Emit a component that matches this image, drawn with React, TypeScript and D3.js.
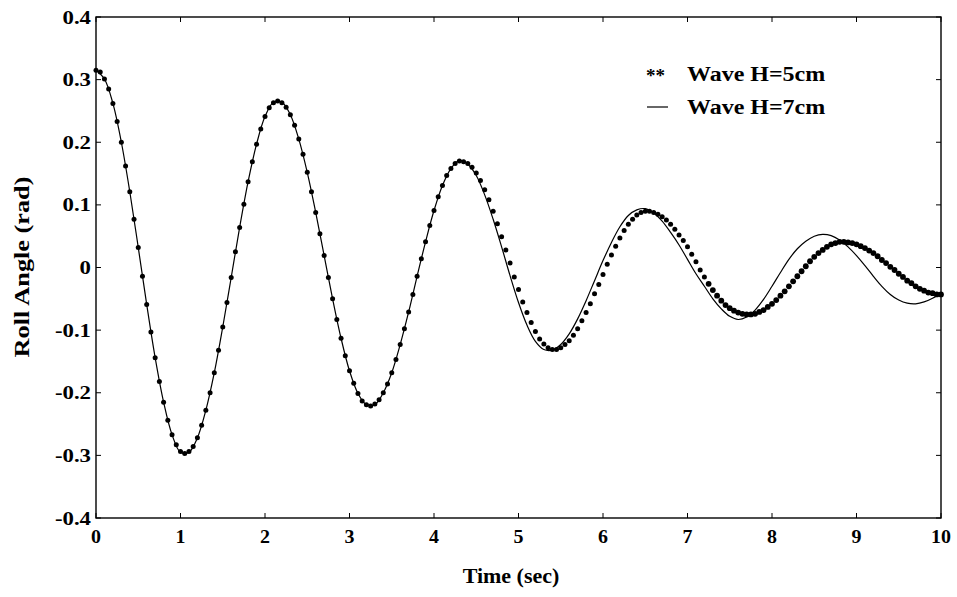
import React from "react";
import * as d3 from "d3";

// Dotted series: Wave H=5cm, sampled every 0.05 s from 0 to 10 s
const dotStep = 0.05;
const wave5: number[] = [
  0.315, 0.312, 0.301, 0.285, 0.262, 0.233, 0.200, 0.162, 0.121, 0.077,
  0.032, -0.014, -0.059, -0.103, -0.144, -0.182, -0.215, -0.244, -0.267, -0.283,
  -0.294, -0.297, -0.294, -0.286, -0.272, -0.252, -0.228, -0.200, -0.168, -0.132,
  -0.095, -0.056, -0.016, 0.025, 0.064, 0.101, 0.137, 0.169, 0.197, 0.221,
  0.241, 0.255, 0.263, 0.266, 0.263, 0.256, 0.244, 0.227, 0.205, 0.181,
  0.152, 0.121, 0.088, 0.054, 0.019, -0.016, -0.050, -0.083, -0.113, -0.141,
  -0.165, -0.185, -0.201, -0.213, -0.219, -0.221, -0.218, -0.211, -0.200, -0.186,
  -0.168, -0.147, -0.123, -0.098, -0.071, -0.043, -0.014, 0.014, 0.041, 0.067,
  0.091, 0.113, 0.131, 0.147, 0.158, 0.166, 0.170, 0.169, 0.166, 0.160,
  0.151, 0.139, 0.124, 0.108, 0.090, 0.070, 0.049, 0.028, 0.007, -0.015,
  -0.035, -0.055, -0.072, -0.088, -0.102, -0.114, -0.122, -0.128, -0.131, -0.131,
  -0.128, -0.123, -0.117, -0.108, -0.098, -0.085, -0.072, -0.058, -0.042, -0.027,
  -0.011, 0.005, 0.020, 0.034, 0.047, 0.059, 0.069, 0.077, 0.084, 0.088,
  0.090, 0.090, 0.088, 0.085, 0.081, 0.076, 0.069, 0.061, 0.052, 0.043,
  0.033, 0.021, 0.009, -0.004, -0.015, -0.026, -0.036, -0.045, -0.053, -0.060,
  -0.065, -0.069, -0.072, -0.074, -0.075, -0.075, -0.074, -0.071, -0.068, -0.063,
  -0.058, -0.052, -0.045, -0.038, -0.030, -0.022, -0.014, -0.006, 0.002, 0.010,
  0.017, 0.023, 0.028, 0.033, 0.037, 0.039, 0.041, 0.041, 0.040, 0.039,
  0.037, 0.034, 0.031, 0.027, 0.023, 0.018, 0.012, 0.007, 0.001, -0.004,
  -0.010, -0.015, -0.021, -0.025, -0.030, -0.034, -0.037, -0.040, -0.041, -0.043,
  -0.043,
];

// Solid series: Wave H=7cm, sampled every 0.1 s from 0 to 10 s
const lineStep = 0.1;
const wave7: number[] = [
  0.315, 0.301, 0.262, 0.200, 0.121, 0.032, -0.059, -0.144, -0.215, -0.267,
  -0.295, -0.295, -0.272, -0.228, -0.168, -0.095, -0.016, 0.064, 0.137, 0.197,
  0.241, 0.264, 0.264, 0.244, 0.205, 0.152, 0.088, 0.019, -0.050, -0.113,
  -0.165, -0.201, -0.219, -0.219, -0.200, -0.168, -0.123, -0.071, -0.014, 0.041,
  0.091, 0.131, 0.158, 0.171, 0.165, 0.147, 0.116, 0.077, 0.033, -0.013,
  -0.056, -0.092, -0.118, -0.131, -0.132, -0.123, -0.106, -0.082, -0.053, -0.021,
  0.011, 0.040, 0.065, 0.083, 0.092, 0.094, 0.087, 0.074, 0.056, 0.036,
  0.013, -0.010, -0.030, -0.050, -0.066, -0.078, -0.083, -0.079, -0.068, -0.051,
  -0.030, -0.008, 0.013, 0.030, 0.042, 0.050, 0.053, 0.051, 0.044, 0.033,
  0.019, 0.003, -0.014, -0.030, -0.043, -0.052, -0.057, -0.058, -0.055, -0.049,
  -0.041,
];

const xTicks = [0, 1, 2, 3, 4, 5, 6, 7, 8, 9, 10];
const yTicks = [0.4, 0.3, 0.2, 0.1, 0, -0.1, -0.2, -0.3, -0.4];
const yTickLabels = ["0.4", "0.3", "0.2", "0.1", "0", "-0.1", "-0.2", "-0.3", "-0.4"];
const legendLabels = ["Wave H=5cm", "Wave H=7cm"];

const W = 957;
const H = 597;
const left = 96;
const right = 941;
const top = 17;
const bottom = 518;
const FONT = "'Liberation Serif', 'Times New Roman', serif";

export default function App() {
  const x = d3.scaleLinear().domain([0, 10]).range([left, right]);
  const y = d3.scaleLinear().domain([-0.4, 0.4]).range([bottom, top]);

  const linePts: [number, number][] = wave7.map((v, i) => [i * lineStep, v]);
  const dotPts: [number, number][] = wave5.map((v, i) => [i * dotStep, v]);

  const lineGen = d3
    .line<[number, number]>()
    .x((d) => x(d[0]))
    .y((d) => y(d[1]))
    .curve(d3.curveCatmullRom.alpha(0.5));

  const tickLen = 5;

  return (
    <svg
      width={W}
      height={H}
      viewBox={`0 0 ${W} ${H}`}
      style={{ position: "absolute", left: 0, top: 0, background: "#fff" }}
    >
      <rect x={0} y={0} width={W} height={H} fill="#fff" />
      {/* frame */}
      <rect
        x={left}
        y={top}
        width={right - left}
        height={bottom - top}
        fill="none"
        stroke="#000"
        strokeWidth={1.4}
      />
      {/* x ticks */}
      {xTicks.map((t) => (
        <g key={"xt" + t}>
          <line x1={x(t)} x2={x(t)} y1={bottom} y2={bottom - tickLen} stroke="#000" strokeWidth={1} />
          <line x1={x(t)} x2={x(t)} y1={top} y2={top + tickLen} stroke="#000" strokeWidth={1} />
          <text
            transform={`translate(${x(t)},543) scale(1.05,1)`}
            textAnchor="middle"
            fontFamily={FONT}
            fontWeight="bold"
            fontSize={19}
            fill="#000"
          >
            {String(t)}
          </text>
        </g>
      ))}
      {/* y ticks */}
      {yTicks.map((t, i) => (
        <g key={"yt" + i}>
          <line x1={left} x2={left + tickLen} y1={y(t)} y2={y(t)} stroke="#000" strokeWidth={1} />
          <line x1={right} x2={right - tickLen} y1={y(t)} y2={y(t)} stroke="#000" strokeWidth={1} />
          <text
            transform={`translate(91,${y(t) + 6.5}) scale(1.2,1)`}
            textAnchor="end"
            fontFamily={FONT}
            fontWeight="bold"
            fontSize={19}
            fill="#000"
          >
            {yTickLabels[i]}
          </text>
        </g>
      ))}
      {/* solid line */}
      <path d={lineGen(linePts) || ""} fill="none" stroke="#000" strokeWidth={1.2} />
      {/* dots */}
      {dotPts.map((d, i) => (
        <circle
          key={"d" + i}
          cx={x(d[0])}
          cy={y(d[1])}
          r={d[0] > 7.2 ? 2.9 : 2.5}
          fill="#000"
        />
      ))}
      {/* axis titles */}
      <text
        transform="translate(511,583) scale(1.1,1)"
        textAnchor="middle"
        fontFamily={FONT}
        fontWeight="bold"
        fontSize={20}
        fill="#000"
      >
        Time (sec)
      </text>
      <text
        transform={`translate(29,267) rotate(-90) scale(1.25,1)`}
        textAnchor="middle"
        fontFamily={FONT}
        fontWeight="bold"
        fontSize={21}
        fill="#000"
      >
        Roll Angle (rad)
      </text>
      {/* legend */}
      <text x={646} y={82} fontFamily={FONT} fontWeight="bold" fontSize={19} fill="#000">
        **
      </text>
      <line x1={647} x2={668} y1={107} y2={107} stroke="#000" strokeWidth={1.2} />
      <text
        transform="translate(687,81) scale(1.2,1)"
        fontFamily={FONT}
        fontWeight="bold"
        fontSize={20}
        fill="#000"
      >
        {legendLabels[0]}
      </text>
      <text
        transform="translate(687,114) scale(1.2,1)"
        fontFamily={FONT}
        fontWeight="bold"
        fontSize={20}
        fill="#000"
      >
        {legendLabels[1]}
      </text>
    </svg>
  );
}
